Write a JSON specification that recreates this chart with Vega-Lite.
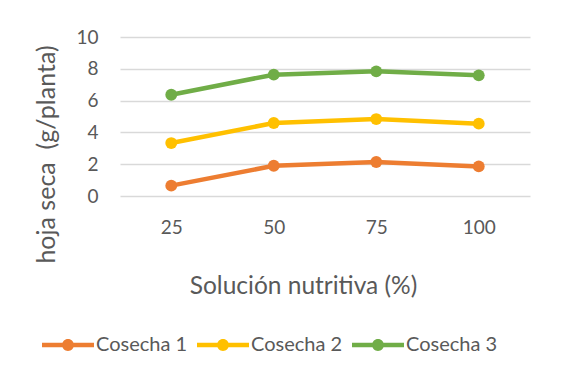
{
  "$schema": "https://vega.github.io/schema/vega-lite/v6.json",
  "width": 410,
  "height": 159,
  "autosize": "none",
  "padding": {"left": 120, "top": 37, "right": 35, "bottom": 183},
  "background": "white",
  "config": {
    "font": "Lato",
    "view": {"stroke": null},
    "axis": {"labelColor": "#595959", "titleColor": "#595959", "labelFont": "Lato", "titleFont": "Lato", "titleFontWeight": "normal"},
    "legend": {"labelFont": "Lato"}
  },
  "data": {
    "values": [
      {"sol": "25", "serie": "Cosecha 1", "v": 0.65},
      {"sol": "50", "serie": "Cosecha 1", "v": 1.9},
      {"sol": "75", "serie": "Cosecha 1", "v": 2.14},
      {"sol": "100", "serie": "Cosecha 1", "v": 1.86},
      {"sol": "25", "serie": "Cosecha 2", "v": 3.33},
      {"sol": "50", "serie": "Cosecha 2", "v": 4.59},
      {"sol": "75", "serie": "Cosecha 2", "v": 4.84},
      {"sol": "100", "serie": "Cosecha 2", "v": 4.55},
      {"sol": "25", "serie": "Cosecha 3", "v": 6.37},
      {"sol": "50", "serie": "Cosecha 3", "v": 7.63},
      {"sol": "75", "serie": "Cosecha 3", "v": 7.84},
      {"sol": "100", "serie": "Cosecha 3", "v": 7.59}
    ]
  },
  "encoding": {
    "x": {
      "field": "sol", "type": "ordinal", "sort": ["25", "50", "75", "100"],
      "scale": {"type": "point", "padding": 0.5},
      "axis": {"title": "Solución nutritiva (%)", "labelAngle": 0, "domain": false, "ticks": false, "grid": false,
        "labelFontSize": 19, "labelPadding": 22, "titleFontSize": 24.5, "titlePadding": 37, "titleX": 183}
    },
    "y": {
      "field": "v", "type": "quantitative",
      "scale": {"domain": [0, 10], "nice": false},
      "axis": {"title": "hoja seca \u00a0(g/planta)", "values": [0, 2, 4, 6, 8, 10], "domain": false, "ticks": false,
        "gridColor": "#d9d9d9", "gridWidth": 1.5, "labelFontSize": 19, "labelPadding": 22,
        "titleFontSize": 25, "titlePadding": 16, "titleY": 117}
    },
    "color": {
      "field": "serie", "type": "nominal",
      "scale": {"domain": ["Cosecha 1", "Cosecha 2", "Cosecha 3"], "range": ["#ed7d31", "#ffc000", "#70ad47"]},
      "legend": {
        "title": null, "orient": "none", "direction": "horizontal", "legendX": -78, "legendY": 282,
        "symbolType": "M-1,-0.09 L1,-0.09 L1,0.09 L-1,0.09 Z M-0.23,0 A0.23,0.23 0 1,1 0.23,0 A0.23,0.23 0 1,1 -0.23,0 Z",
        "symbolSize": 2704, "symbolStrokeWidth": 0, "labelFontSize": 20, "labelColor": "#595959",
        "labelOffset": 2, "columnPadding": 9,
        "encode": {"symbols": {"update": {"fill": {"scale": "color", "field": "value"}, "strokeWidth": {"value": 0}, "opacity": {"value": 1}}}}
      }
    }
  },
  "layer": [
    {"mark": {"type": "line", "strokeWidth": 4.5}},
    {"mark": {"type": "point", "filled": true, "opacity": 1, "size": 140}}
  ]
}
